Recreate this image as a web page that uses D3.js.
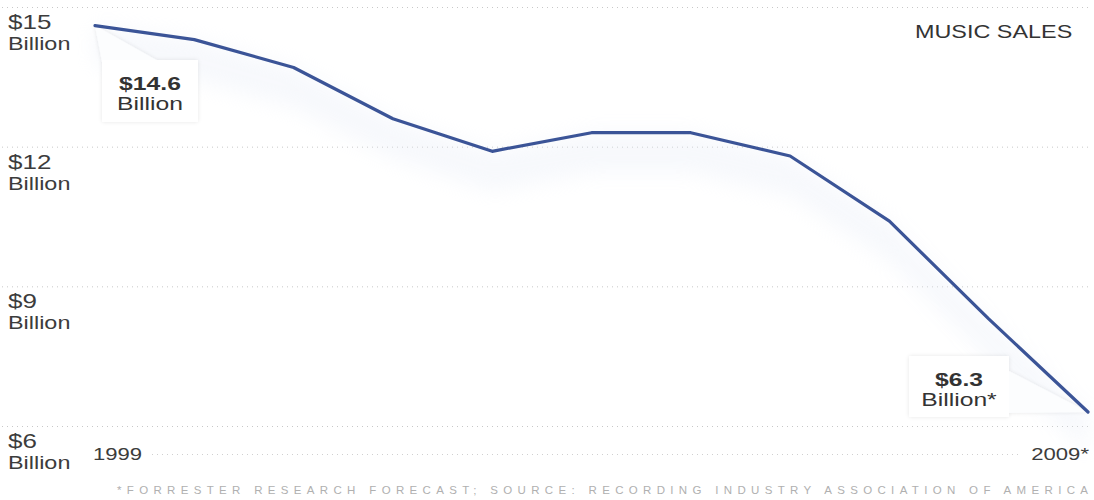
<!DOCTYPE html>
<html><head><meta charset="utf-8">
<script src="https://cdn.jsdelivr.net/npm/d3@7"></script>
<style>
html,body{margin:0;padding:0;background:#fff;}
svg{display:block;font-family:"Liberation Sans",Arial,sans-serif;}
</style></head>
<body>
<svg id="chart" width="1094" height="500"></svg>
<script>
const years = [1999,2000,2001,2002,2003,2004,2005,2006,2007,2008,2009];
const sales = [14.6,14.3,13.7,12.6,11.9,12.3,12.3,11.8,10.4,8.3,6.3];
const yTicks = [15,12,9,6];
const yTickLabels = ["$15","$12","$9","$6"];
const xLabels = ["1999","2009*"];
const title = "MUSIC SALES";
const footnote = "*FORRESTER RESEARCH FORECAST; SOURCE: RECORDING INDUSTRY ASSOCIATION OF AMERICA";

const SX = 1.3; // horizontal stretch of the original artwork
const svg = d3.select("#chart");
const x = d3.scaleLinear().domain([1999,2009]).range([95,1088]);
const y = d3.scaleLinear().domain([6,15]).range([426,7]);

const defs = svg.append("defs");
const blur = defs.append("filter").attr("id","blur").attr("x","-10%").attr("y","-30%").attr("width","120%").attr("height","160%");
blur.append("feGaussianBlur").attr("stdDeviation",10);
const shadow = defs.append("filter").attr("id","sh").attr("x","-20%").attr("y","-20%").attr("width","140%").attr("height","140%");
shadow.append("feGaussianBlur").attr("in","SourceAlpha").attr("stdDeviation",2);
shadow.append("feComponentTransfer").append("feFuncA").attr("type","linear").attr("slope",0.1);
const merge = shadow.append("feMerge");
merge.append("feMergeNode");
merge.append("feMergeNode").attr("in","SourceGraphic");

function label(px, py, txt, size, opts={}){
  const g = svg.append("g").attr("transform",`translate(${px},${py}) scale(${SX},1)`);
  return g.append("text").attr("font-size",size)
    .attr("font-weight",opts.weight||"normal")
    .attr("text-anchor",opts.anchor||"start")
    .attr("fill",opts.fill||"#3c3c3c").text(txt);
}

// gridlines
svg.append("g").selectAll("line").data(yTicks).join("line")
  .attr("x1",2).attr("x2",1092)
  .attr("y1",d=>y(d)+0.5).attr("y2",d=>y(d)+0.5)
  .attr("stroke","#c8c8c8").attr("stroke-width",1).attr("stroke-dasharray","1,4");
// baseline dotted at year labels
svg.append("line").attr("x1",152).attr("x2",1022).attr("y1",454.5).attr("y2",454.5)
  .attr("stroke","#d0d0d0").attr("stroke-dasharray","1,4");

// faint glow under the line
const area = d3.area().x((d,i)=>x(years[i])).y0(d=>y(d)+40).y1(d=>y(d));
svg.append("path").datum(sales).attr("d",area).attr("fill","#e4eaf6").attr("opacity",0.3).attr("filter","url(#blur)");

// y labels
yTicks.forEach((t,i)=>{
  label(8, y(t)+22, yTickLabels[i], 20);
  label(8, y(t)+43, "Billion", 18);
});

// x labels
label(93, 460, xLabels[0], 17);
label(1089, 460, xLabels[1], 17, {anchor:"end"});

// title
label(915, 38, title, 18, {fill:"#333"});

// callouts
function callout(bx,by,bw,bh,wedge,val,sub){
  const g = svg.append("g").attr("filter","url(#sh)");
  g.append("polygon").attr("points",wedge.map(p=>p.join(",")).join(" ")).attr("fill","#fcfdfe");
  g.append("rect").attr("x",bx).attr("y",by).attr("width",bw).attr("height",bh).attr("fill","#fff");
  label(bx+bw/2, by+30, val, 19, {anchor:"middle", weight:"bold", fill:"#333"});
  label(bx+bw/2, by+50, sub, 19, {anchor:"middle", fill:"#333"});
}
const p0 = [x(years[0]), y(sales[0])];
callout(102,60,96,62,[[p0[0],p0[1]],[102,62],[102,92],[160,62]],"$"+sales[0],"Billion");
const pn = [x(years[10]), y(sales[10])];
callout(909,356,100,61,[[1007,370],[pn[0],pn[1]],[1007,413]],"$"+sales[10],"Billion*");

// line
const line = d3.line().x((d,i)=>x(years[i])).y(d=>y(d));
svg.append("path").datum(sales).attr("d",line).attr("fill","none")
  .attr("stroke","#3b5497").attr("stroke-width",3.2).attr("stroke-linejoin","round").attr("stroke-linecap","round");

// footnote
svg.append("text").attr("x",117).attr("y",494).attr("font-size",11.5).attr("fill","#b0b0b0")
  .attr("textLength",971).attr("lengthAdjust","spacing").text(footnote);
</script>
</body></html>
